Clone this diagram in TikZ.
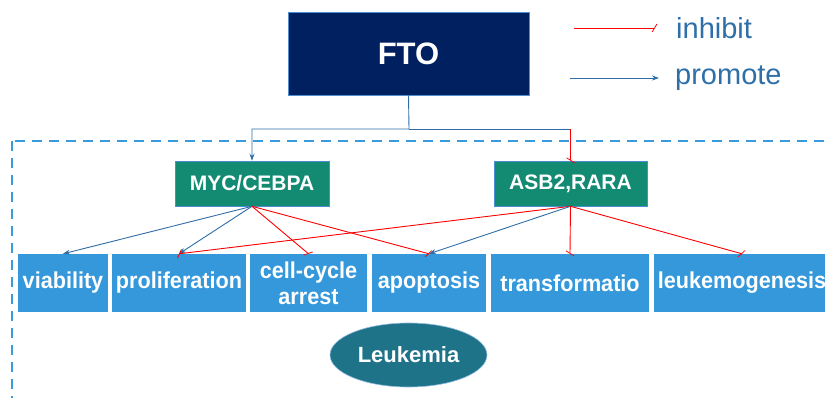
\documentclass[tikz,border=0pt]{standalone}
\usepackage{fontspec}
\setmainfont{Liberation Sans}
\newfontfamily\narrowsans{Liberation Sans}[FakeStretch=0.94]
\usetikzlibrary{arrows.meta,shapes.geometric}

\definecolor{ftonavy}{HTML}{002060}
\definecolor{genegreen}{HTML}{138A72}
\definecolor{outblue}{HTML}{3498DB}
\definecolor{leukteal}{HTML}{1E7388}
\definecolor{promblue}{HTML}{2E6DA6}
\definecolor{legtext}{HTML}{2E6FA8}
\definecolor{dashblue}{HTML}{3A9BDC}
\definecolor{edgeblue}{HTML}{4A8FD0}

\tikzset{
  outcome/.style={fill=outblue, text=white, font=\narrowsans\bfseries\fontsize{23}{26}\selectfont,
    minimum height=58pt, inner sep=0pt, align=center},
  gene/.style={fill=genegreen, draw=edgeblue, line width=0.6pt, text=white,
    font=\bfseries\fontsize{21}{25}\selectfont, minimum width=154pt, minimum height=45pt, inner sep=0pt},
  promote/.style={draw=promblue, line width=0.9pt, -{Stealth[length=7pt,width=5pt]}},
  inhibit/.style={draw=red, line width=0.9pt, -{Bar[width=8pt,slant=0.6]}},
  legendtxt/.style={text=legtext, font=\fontsize{29}{34}\selectfont, inner sep=0pt, anchor=west}
}

\begin{document}
\begin{tikzpicture}[x=1pt,y=-1pt]
  \useasboundingbox (0,0) rectangle (825,398);

  % dashed frame round the targets
  \draw[dashblue, line width=1.5pt, dash pattern=on 10pt off 7pt] (12,141) rectangle (860,430);

  \node[fill=ftonavy, draw=edgeblue, line width=0.8pt, text=white, font=\bfseries\fontsize{31}{36}\selectfont,
        minimum width=241pt, minimum height=83pt, inner sep=0pt] (fto) at (408.5,53.5) {FTO};

  \node[gene] (myc) at (252,183.5)   {MYC/CEBPA};
  \node[gene, minimum width=153pt] (asb) at (570.5,183.5) {ASB2,RARA};

  \node[outcome, minimum width=90pt]  (viab)    at (63,283)    {viability};
  \node[outcome, minimum width=134pt] (prolif)  at (179,283)   {proliferation};
  \node[outcome, minimum width=117pt] (cellcyc) at (308.5,283) {cell-cycle\\arrest};
  \node[outcome, minimum width=114pt] (apop)    at (429,283)   {apoptosis};
  \node[outcome, minimum width=158pt] (transf)  at (570,283)   {transformatio};
  \node[outcome, minimum width=176pt] (leukgen) at (742,283)   {leukemogenesis};

  \node[ellipse, fill=leukteal, draw=edgeblue!60, line width=0.6pt, text=white,
        font=\bfseries\fontsize{22}{26}\selectfont, minimum width=157pt, minimum height=64pt,
        inner sep=0pt] (leuk) at (408.5,355) {Leukemia};

  % legend
  \node[legendtxt] (inhtxt)  at (676,28) {inhibit};
  \node[legendtxt] (promtxt) at (675,78) {promote};
  \coordinate (inhA)  at (574,28);
  \coordinate (inhB)  at (655,28);
  \coordinate (promA) at (570,78);
  \coordinate (promB) at (659,78);
  \draw[inhibit] (inhA) -- (inhB);
  \draw[promote] (promA) -- (promB);

  % FTO to its targets
  \coordinate (split)   at (409,129);
  \coordinate (asbjoin) at (570.5,129);
  \draw[promote] (fto.south) -- (split) -| (myc.north);
  \draw[promblue, line width=0.9pt] (split) -- (asbjoin);
  \draw[inhibit] (asbjoin) -- (asb.north);

  \path
  (myc.south)
    edge[promote] (viab.north)
    edge[promote] (prolif.north)
    edge[inhibit] (cellcyc.north)
    edge[inhibit] (apop.north)

  (asb.south)
    edge[inhibit] (prolif.north)
    edge[promote] (apop.north)
    edge[inhibit] (transf.north)
    edge[inhibit] (leukgen.north)
  ;
\end{tikzpicture}
\end{document}
